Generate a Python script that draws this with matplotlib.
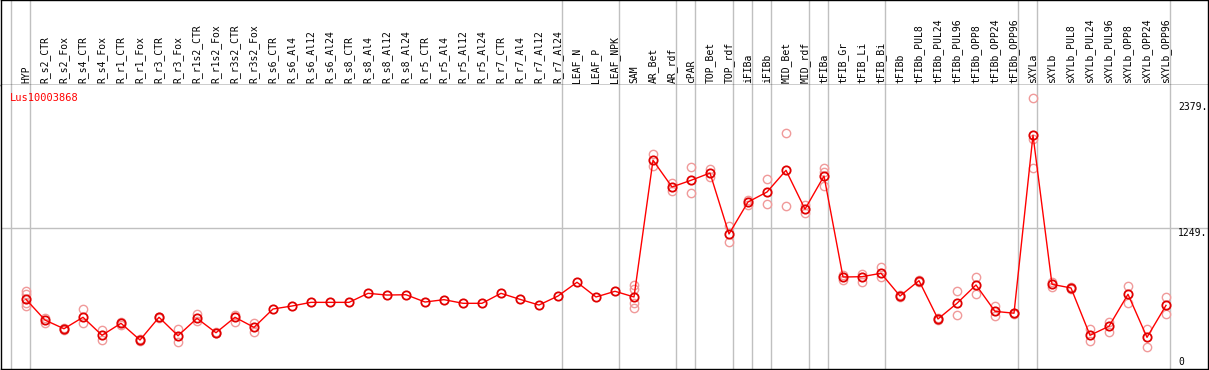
import matplotlib
matplotlib.use('Agg')
import matplotlib.pyplot as plt

gene = 'Lus10003868'

samples = ['HYP', 'R_s2_CTR', 'R_s2_Fox', 'R_s4_CTR', 'R_s4_Fox', 'R_r1_CTR', 'R_r1_Fox',
           'R_r3_CTR', 'R_r3_Fox', 'R_r1s2_CTR', 'R_r1s2_Fox', 'R_r3s2_CTR', 'R_r3s2_Fox',
           'R_s6_CTR', 'R_s6_Al4', 'R_s6_Al12', 'R_s6_Al24', 'R_s8_CTR', 'R_s8_Al4',
           'R_s8_Al12', 'R_s8_Al24', 'R_r5_CTR', 'R_r5_Al4', 'R_r5_Al12', 'R_r5_Al24',
           'R_r7_CTR', 'R_r7_Al4', 'R_r7_Al12', 'R_r7_Al24', 'LEAF_N', 'LEAF_P', 'LEAF_NPK',
           'SAM', 'AR_Bet', 'AR_rdf', 'cPAR', 'TOP_Bet', 'TOP_rdf', 'iFIBa', 'iFIBb',
           'MID_Bet', 'MID_rdf', 'tFIBa', 'tFIB_Gr', 'tFIB_Li', 'tFIB_Bi', 'tFIBb',
           'tFIBb_PUL8', 'tFIBb_PUL24', 'tFIBb_PUL96', 'tFIBb_OPP8', 'tFIBb_OPP24',
           'tFIBb_OPP96', 'sXYLa', 'sXYLb', 'sXYLb_PUL8', 'sXYLb_PUL24', 'sXYLb_PUL96',
           'sXYLb_OPP8', 'sXYLb_OPP24', 'sXYLb_OPP96']

means = [584, 391, 310, 417, 249, 361, 205, 417, 245, 407, 273, 417, 323,
         494, 522, 556, 556, 556, 640, 624, 627, 559, 581, 547, 547,
         640, 584, 531, 615, 743, 606, 659,
         606, 1880, 1631, 1693, 1761, 1193, 1491, 1584, 1786, 1424,
         1733, 792, 795, 827, 615, 758, 401, 547, 718, 472, 455,
         2113, 724, 690, 249, 333, 631, 230, 528]

reps = [[665, 631, 547, 522], [413, 366], [320, 300], [491, 361], [298, 205],
        [376, 345], [215, 195], [420, 414], [305, 186], [447, 385], [280, 266],
        [438, 376], [361, 283],
        [], [], [], [], [], [], [], [], [], [], [], [], [], [], [], [],
        [], [], [],
        [718, 680, 547, 500], [1939, 1827], [1665, 1597], [1815, 1572], [1799, 1721],
        [1268, 1115], [1510, 1460], [1703, 1470], [2131, 1451], [1460, 1386],
        [1805, 1768, 1640], [811, 764], [817, 748], [888, 795], [625, 605],
        [765, 750], [410, 392], [662, 438], [792, 631], [525, 426], [460, 450],
        [2458, 2076, 1805], [748, 702], [695, 685], [305, 196], [376, 283],
        [708, 553], [305, 143], [603, 450]]

# index of last sample in each group (-1 = left edge)
group_ends = [-1, 0, 28, 31, 34, 35, 37, 38, 39, 41, 42, 45, 52, 53, 60]

yticks = [0, 1249, 2379]
ytick_labels = ['0', '1249.', '2379.']

W, H = 1209, 370
fig = plt.figure(figsize=(W / 100, H / 100), dpi=100)
ax_top = fig.add_axes([1 / W, (H - 85) / H, 1207 / W, 85 / H])
ax = fig.add_axes([1 / W, 1 / H, 1207 / W, 284 / H], sharex=ax_top)

x = list(range(len(samples)))
xlim = ((1 - 26) / 19, (1208 - 26) / 19)
grid_col = '#c0c0c0'
mono = 'DejaVu Sans Mono'

# label strip
ax_top.set_xlim(*xlim)
ax_top.set_ylim(0, 85)
for i, s in enumerate(samples):
    ax_top.text(i, 2, s, rotation=90, ha='center', va='bottom',
                fontsize=7, family=mono, color='black')
for g in group_ends:
    ax_top.axvline(g + 4 / 19, color=grid_col, lw=1, zorder=0)
ax_top.set_xticks([])
ax_top.set_yticks([])
for sp in ax_top.spines.values():
    sp.set_linewidth(1)
    sp.set_color('black')

# main plot
ax.set_xlim(*xlim)
ax.set_ylim(-65, 2581)
for g in group_ends:
    ax.axvline(g + 4 / 19, color=grid_col, lw=1, zorder=0)
ax.axhline(1249, color=grid_col, lw=1, zorder=0)

for i, r in enumerate(reps):
    if r:
        ax.plot([i] * len(r), r, 'o', ms=6, mfc='none', mec='#f09a9a', mew=1.0, zorder=2)

ax.plot(x, means, '-', color='red', lw=1, zorder=3)
ax.plot(x, means, 'o', ms=6, mfc='none', mec='#e00000', mew=1.3, zorder=4)

tx = (1178 - 26) / 19
for v, lab in zip(yticks, ytick_labels):
    va = 'top' if v == 1249 else 'center'
    ax.text(tx, v, lab, ha='left', va=va, fontsize=7, family=mono, color='black')

ax.text(0.007, 0.955, gene, transform=ax.transAxes, ha='left', va='center',
        fontsize=7.5, family=mono, color='red')

ax.set_xticks([])
ax.set_yticks([])
for sp in ax.spines.values():
    sp.set_linewidth(1)
    sp.set_color('black')
ax.spines['top'].set_visible(False)

fig.savefig('out.png', dpi=100)
